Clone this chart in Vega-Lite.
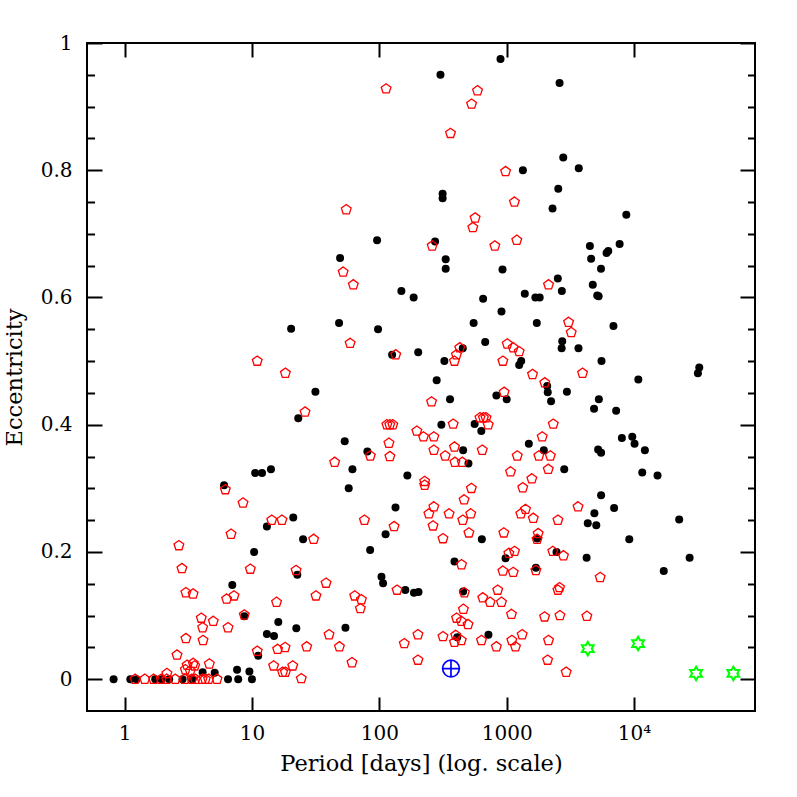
{
  "$schema": "https://vega.github.io/schema/vega-lite/v6.json",
  "width": 668,
  "height": 668,
  "autosize": "none",
  "padding": {"left": 87, "top": 43, "right": 42, "bottom": 86},
  "background": "white",
  "config": {
    "view": {"stroke": "#000", "strokeWidth": 2},
    "axis": {"grid": false, "domain": false, "tickColor": "#000", "tickWidth": 2, "labelFont": "DejaVu Serif", "titleFont": "DejaVu Serif", "labelColor": "#000", "titleColor": "#000", "labelFontSize": 20, "titleFontSize": 22.5, "titleFontWeight": "normal", "labelFlush": false, "labelOverlap": false}
  },
  "datasets": {
    "black": [
      {"period":894,"e":0.975},{"period":302,"e":0.95},{"period":2600,"e":0.937},{"period":2780,"e":0.82},{"period":3680,"e":0.803},{"period":1340,"e":0.8},{"period":2540,"e":0.771},{"period":2290,"e":0.74},{"period":8690,"e":0.73},{"period":314,"e":0.763},{"period":314,"e":0.756},{"period":96,"e":0.69},{"period":274,"e":0.688},{"period":49.2,"e":0.662},{"period":332,"e":0.66},{"period":332,"e":0.645},{"period":927,"e":0.644},{"period":149,"e":0.61},{"period":186,"e":0.6},{"period":653,"e":0.598},{"period":910,"e":0.578},{"period":1387,"e":0.606},{"period":1680,"e":0.6},{"period":1815,"e":0.6},{"period":2520,"e":0.63},{"period":2710,"e":0.61},{"period":48.3,"e":0.56},{"period":97.7,"e":0.55},{"period":550,"e":0.56},{"period":1723,"e":0.56},{"period":126,"e":0.51},{"period":202,"e":0.514},{"period":324,"e":0.5},{"period":452,"e":0.52},{"period":678,"e":0.53},{"period":1300,"e":0.5},{"period":1253,"e":0.494},{"period":2080,"e":0.461},{"period":2100,"e":0.451},{"period":2230,"e":0.437},{"period":2730,"e":0.531},{"period":2700,"e":0.52},{"period":2970,"e":0.452},{"period":830,"e":0.446},{"period":1000,"e":0.44},{"period":359,"e":0.44},{"period":282,"e":0.47},{"period":4500,"e":0.681},{"period":4600,"e":0.661},{"period":6080,"e":0.67},{"period":6270,"e":0.673},{"period":7700,"e":0.684},{"period":5500,"e":0.645},{"period":4740,"e":0.62},{"period":5140,"e":0.603},{"period":5270,"e":0.602},{"period":6890,"e":0.555},{"period":3660,"e":0.52},{"period":5550,"e":0.5},{"period":10800,"e":0.471},{"period":31700,"e":0.481},{"period":32500,"e":0.49},{"period":5290,"e":0.44},{"period":4850,"e":0.425},{"period":7230,"e":0.422},{"period":8020,"e":0.379},{"period":9680,"e":0.381},{"period":10090,"e":0.37},{"period":12160,"e":0.36},{"period":5220,"e":0.361},{"period":5510,"e":0.356},{"period":11590,"e":0.325},{"period":15280,"e":0.32},{"period":5510,"e":0.289},{"period":6970,"e":0.269},{"period":4880,"e":0.261},{"period":4330,"e":0.245},{"period":5050,"e":0.242},{"period":22600,"e":0.251},{"period":9170,"e":0.22},{"period":4240,"e":0.191},{"period":27300,"e":0.191},{"period":17100,"e":0.17},{"period":307,"e":0.4},{"period":560,"e":0.401},{"period":632,"e":0.39},{"period":455,"e":0.36},{"period":501,"e":0.339},{"period":1492,"e":0.37},{"period":1955,"e":0.36},{"period":2830,"e":0.33},{"period":638,"e":0.22},{"period":1732,"e":0.221},{"period":980,"e":0.19},{"period":2460,"e":0.2},{"period":389,"e":0.185},{"period":1695,"e":0.175},{"period":203,"e":0.137},{"period":455,"e":0.138},{"period":409,"e":0.066},{"period":719,"e":0.07},{"period":23.1,"e":0.41},{"period":53.5,"e":0.374},{"period":80.6,"e":0.358},{"period":61.5,"e":0.33},{"period":166,"e":0.32},{"period":57.5,"e":0.3},{"period":10.6,"e":0.324},{"period":12,"e":0.324},{"period":14.1,"e":0.33},{"period":134,"e":0.27},{"period":112,"e":0.228},{"period":21.1,"e":0.254},{"period":13.1,"e":0.24},{"period":25.2,"e":0.22},{"period":10.4,"e":0.2},{"period":84.7,"e":0.203},{"period":22.7,"e":0.164},{"period":104,"e":0.161},{"period":107,"e":0.151},{"period":160,"e":0.14},{"period":187,"e":0.136},{"period":16.1,"e":0.09},{"period":22.3,"e":0.08},{"period":13.1,"e":0.071},{"period":14.9,"e":0.068},{"period":54.2,"e":0.081},{"period":11.2,"e":0.037},{"period":6.04,"e":0.305},{"period":7.01,"e":0.148},{"period":8.71,"e":0.099},{"period":20.3,"e":0.551},{"period":31.5,"e":0.452},{"period":4.1,"e":0.011},{"period":5.1,"e":0.01},{"period":7.64,"e":0.015},{"period":9.55,"e":0.012},{"period":0.82,"e":0},{"period":1.11,"e":0},{"period":1.24,"e":0},{"period":1.74,"e":0},{"period":1.95,"e":0},{"period":2.24,"e":0},{"period":2.85,"e":0},{"period":3.4,"e":0},{"period":6.49,"e":0},{"period":7.8,"e":0},{"period":10,"e":0}
    ],
    "red": [
      {"period":113,"e":0.928},{"period":590,"e":0.925},{"period":530,"e":0.904},{"period":362,"e":0.858},{"period":980,"e":0.798},{"period":1150,"e":0.75},{"period":55,"e":0.738},{"period":565,"e":0.725},{"period":542,"e":0.71},{"period":260,"e":0.681},{"period":807,"e":0.681},{"period":1200,"e":0.69},{"period":52,"e":0.64},{"period":62.5,"e":0.62},{"period":2130,"e":0.62},{"period":3060,"e":0.561},{"period":3210,"e":0.545},{"period":59,"e":0.528},{"period":134.5,"e":0.51},{"period":389,"e":0.5},{"period":403,"e":0.51},{"period":428,"e":0.521},{"period":1010,"e":0.527},{"period":1125,"e":0.521},{"period":1253,"e":0.515},{"period":933,"e":0.5},{"period":1595,"e":0.479},{"period":1990,"e":0.466},{"period":955,"e":0.451},{"period":257,"e":0.436},{"period":3940,"e":0.481},{"period":3630,"e":0.271},{"period":5420,"e":0.16},{"period":4260,"e":0.099},{"period":380,"e":0.401},{"period":617,"e":0.411},{"period":656,"e":0.411},{"period":688,"e":0.411},{"period":716,"e":0.4},{"period":197,"e":0.39},{"period":222,"e":0.381},{"period":268,"e":0.381},{"period":268,"e":0.36},{"period":389,"e":0.365},{"period":329,"e":0.351},{"period":392,"e":0.341},{"period":448,"e":0.341},{"period":643,"e":0.36},{"period":1900,"e":0.381},{"period":2320,"e":0.401},{"period":1210,"e":0.351},{"period":1788,"e":0.351},{"period":2200,"e":0.351},{"period":2120,"e":0.33},{"period":1072,"e":0.326},{"period":1575,"e":0.315},{"period":1337,"e":0.301},{"period":227,"e":0.311},{"period":227,"e":0.305},{"period":528,"e":0.3},{"period":463,"e":0.282},{"period":268,"e":0.271},{"period":245,"e":0.26},{"period":353,"e":0.26},{"period":452,"e":0.25},{"period":522,"e":0.26},{"period":264,"e":0.241},{"period":316,"e":0.221},{"period":505,"e":0.23},{"period":949,"e":0.23},{"period":1405,"e":0.267},{"period":1291,"e":0.26},{"period":1617,"e":0.253},{"period":2525,"e":0.25},{"period":1766,"e":0.229},{"period":1732,"e":0.22},{"period":1040,"e":0.198},{"period":1152,"e":0.201},{"period":2300,"e":0.201},{"period":2790,"e":0.194},{"period":442,"e":0.18},{"period":933,"e":0.17},{"period":1125,"e":0.168},{"period":1695,"e":0.171},{"period":465,"e":0.136},{"period":850,"e":0.14},{"period":649,"e":0.128},{"period":741,"e":0.121},{"period":910,"e":0.121},{"period":2525,"e":0.14},{"period":2600,"e":0.144},{"period":457,"e":0.11},{"period":404,"e":0.096},{"period":441,"e":0.091},{"period":497,"e":0.086},{"period":1090,"e":0.102},{"period":1983,"e":0.098},{"period":2617,"e":0.1},{"period":201,"e":0.07},{"period":316,"e":0.067},{"period":398,"e":0.069},{"period":389,"e":0.058},{"period":440,"e":0.061},{"period":634,"e":0.061},{"period":830,"e":0.051},{"period":1097,"e":0.061},{"period":1172,"e":0.051},{"period":1323,"e":0.07},{"period":2130,"e":0.061},{"period":201,"e":0.03},{"period":2095,"e":0.03},{"period":2930,"e":0.011},{"period":26.1,"e":0.42},{"period":85,"e":0.351},{"period":44.6,"e":0.341},{"period":119,"e":0.371},{"period":121,"e":0.35},{"period":114.6,"e":0.4},{"period":120.8,"e":0.4},{"period":127.6,"e":0.4},{"period":76.4,"e":0.25},{"period":130.6,"e":0.24},{"period":14.3,"e":0.25},{"period":17.2,"e":0.25},{"period":30.5,"e":0.22},{"period":22.2,"e":0.171},{"period":38.2,"e":0.151},{"period":31.8,"e":0.131},{"period":137.8,"e":0.14},{"period":64.1,"e":0.131},{"period":72.3,"e":0.125},{"period":71,"e":0.111},{"period":15.6,"e":0.121},{"period":40.3,"e":0.07},{"period":15.9,"e":0.047},{"period":18.2,"e":0.05},{"period":26.9,"e":0.051},{"period":48.6,"e":0.051},{"period":61,"e":0.026},{"period":11,"e":0.044},{"period":14.8,"e":0.021},{"period":17.4,"e":0.011},{"period":18.3,"e":0.011},{"period":20.9,"e":0.021},{"period":24.4,"e":0.001},{"period":157,"e":0.056},{"period":6.18,"e":0.298},{"period":8.51,"e":0.277},{"period":6.85,"e":0.228},{"period":2.67,"e":0.21},{"period":2.82,"e":0.174},{"period":9.71,"e":0.173},{"period":3.03,"e":0.136},{"period":3.45,"e":0.134},{"period":6.33,"e":0.126},{"period":7.23,"e":0.131},{"period":8.71,"e":0.101},{"period":4.0,"e":0.096},{"period":4.97,"e":0.091},{"period":4.1,"e":0.081},{"period":6.49,"e":0.081},{"period":3.03,"e":0.064},{"period":4.13,"e":0.061},{"period":2.58,"e":0.038},{"period":4.63,"e":0.024},{"period":11,"e":0.5},{"period":18.3,"e":0.481},{"period":2.15,"e":0.009},{"period":3.0,"e":0.015},{"period":3.1,"e":0.022},{"period":3.46,"e":0.025},{"period":3.55,"e":0.021},{"period":3.28,"e":0.013},{"period":1.21,"e":0},{"period":1.44,"e":0},{"period":1.69,"e":0},{"period":1.94,"e":0},{"period":2.14,"e":0},{"period":2.5,"e":0},{"period":2.96,"e":0},{"period":3.38,"e":0},{"period":3.59,"e":0},{"period":4.06,"e":0},{"period":4.3,"e":0},{"period":4.57,"e":0},{"period":5.32,"e":0}
    ],
    "earth": [{"period":365.25,"e":0.0167}],
    "solar": [{"period":4333,"e":0.048},{"period":10759,"e":0.056},{"period":30687,"e":0.009},{"period":60190,"e":0.009}]
  },
  "layer": [
    {
      "data": {"name": "black"},
      "mark": {"type": "point", "shape": "circle", "filled": true, "color": "#000", "size": 64, "opacity": 1},
      "encoding": {
        "x": {"field": "period", "type": "quantitative", "scale": {"type": "log", "domain": [0.507, 89000], "nice": false},
          "axis": {"orient": "bottom", "values": [1, 10, 100, 1000, 10000], "tickSize": -14, "labelPadding": 42, "labelBaseline": "alphabetic", "labelExpr": "datum.value == 10000 ? '10⁴' : format(datum.value, 'd')", "title": "Period [days] (log. scale)", "titleY": 59, "titleBaseline": "alphabetic"}},
        "y": {"field": "e", "type": "quantitative", "scale": {"domain": [-0.05, 1], "nice": false, "zero": false},
          "axis": {"orient": "left", "values": [0, 0.2, 0.4, 0.6, 0.8, 1], "tickSize": -15, "labelPadding": 30, "format": "~g", "title": "Eccentricity", "titleX": -66, "titleBaseline": "alphabetic"}}
      }
    },
    {
      "data": {"name": "red"},
      "mark": {"type": "point", "shape": "M0,-1L0.951,-0.309L0.588,0.809L-0.588,0.809L-0.951,-0.309Z", "filled": false, "color": "#ff0000", "strokeWidth": 1.3, "size": 105, "opacity": 1},
      "encoding": {
        "x": {"field": "period", "type": "quantitative", "scale": {"type": "log", "domain": [0.507, 89000], "nice": false},
          "axis": {"orient": "top", "values": [1, 10, 100, 1000, 10000], "tickSize": -14, "labels": false, "title": null}},
        "y": {"field": "e", "type": "quantitative", "scale": {"domain": [-0.05, 1], "nice": false, "zero": false},
          "axis": {"orient": "right", "values": [0, 0.2, 0.4, 0.6, 0.8, 1], "tickSize": -15, "labels": false, "title": null}}
      }
    },
    {
      "data": {"name": "earth"},
      "mark": {"type": "point", "shape": "M-1,0A1,1,0,1,0,1,0A1,1,0,1,0,-1,0ZM-1,0L1,0M0,-1L0,1", "filled": false, "color": "#0000ff", "strokeWidth": 1.7, "size": 280, "opacity": 1},
      "encoding": {
        "x": {"field": "period", "type": "quantitative", "scale": {"type": "log", "domain": [0.507, 89000], "nice": false}, "axis": null},
        "y": {"field": "e", "type": "quantitative", "scale": {"domain": [-0.05, 1], "nice": false, "zero": false},
          "axis": {"orient": "left", "values": [0.05, 0.1, 0.15, 0.25, 0.3, 0.35, 0.45, 0.5, 0.55, 0.65, 0.7, 0.75, 0.85, 0.9, 0.95], "tickSize": -7.5, "labels": false, "title": null}}
      }
    },
    {
      "data": {"name": "solar"},
      "mark": {"type": "point", "shape": "M0,-1L0.289,-0.5L0.866,-0.5L0.577,0L0.866,0.5L0.289,0.5L0,1L-0.289,0.5L-0.866,0.5L-0.577,0L-0.866,-0.5L-0.289,-0.5Z", "filled": false, "color": "#00ff00", "strokeWidth": 2, "size": 185, "opacity": 1},
      "encoding": {
        "x": {"field": "period", "type": "quantitative", "scale": {"type": "log", "domain": [0.507, 89000], "nice": false}, "axis": null},
        "y": {"field": "e", "type": "quantitative", "scale": {"domain": [-0.05, 1], "nice": false, "zero": false},
          "axis": {"orient": "right", "values": [0.05, 0.1, 0.15, 0.25, 0.3, 0.35, 0.45, 0.5, 0.55, 0.65, 0.7, 0.75, 0.85, 0.9, 0.95], "tickSize": -7.5, "labels": false, "title": null}}
      }
    }
  ],
  "resolve": {"axis": {"x": "independent", "y": "independent"}}
}
